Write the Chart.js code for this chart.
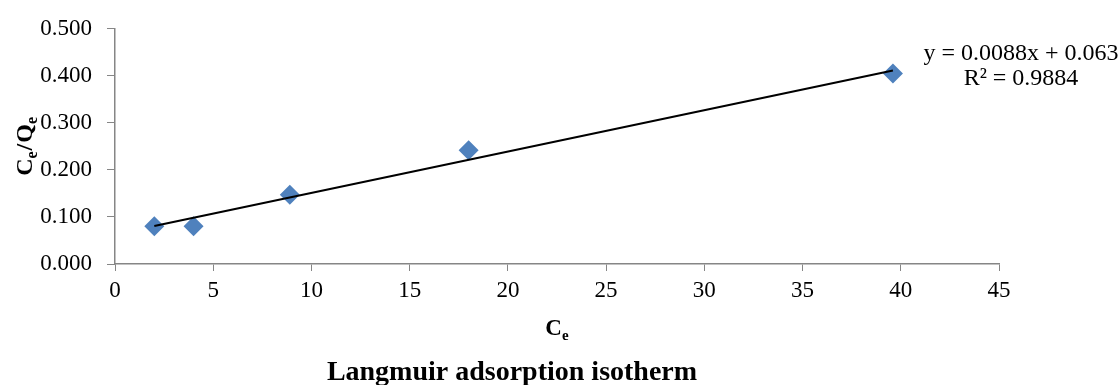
<!DOCTYPE html>
<html>
<head>
<meta charset="utf-8">
<script src="https://cdn.jsdelivr.net/npm/chart.js@4/dist/chart.umd.min.js"></script>
<style>
  html, body { margin: 0; padding: 0; background: #fff; }
  #wrap { width: 1118px; height: 385px; }
</style>
</head>
<body>
<div id="wrap"><canvas id="chart" width="1118" height="385"></canvas></div>
<script>
var ceValues = [2, 4, 8.9, 18, 39.6];          // Ce
var ratioValues = [0.080, 0.080, 0.147, 0.242, 0.405]; // Ce/Qe
// trendline end points (linear fit shown in the picture)
var trendX = [2, 39.6];
var trendY = [0.081, 0.4115];
var equationLines = ['y = 0.0088x + 0.063', 'R\u00B2 = 0.9884'];
var chartTitle = 'Langmuir adsorption isotherm';

var serif = '"Liberation Serif", "Times New Roman", serif';
var axisGray = '#868686';

function toPoints(xs, ys) {
    return xs.map(function (x, i) { return { x: x, y: ys[i] }; });
}

// draw text with subscript parts, centred on x
// parts: [[text, isSub, gapAfter], ...]
function drawSub(ctx, parts, x, y, size) {
    var subSize = Math.round(size * 0.65);
    var total = 0;
    parts.forEach(function (p) {
        ctx.font = 'bold ' + (p[1] ? subSize : size) + 'px ' + serif;
        total += ctx.measureText(p[0]).width + (p[2] || 0);
    });
    var cx = x - total / 2;
    parts.forEach(function (p) {
        ctx.font = 'bold ' + (p[1] ? subSize : size) + 'px ' + serif;
        ctx.fillText(p[0], cx, p[1] ? y + size * 0.2 : y);
        cx += ctx.measureText(p[0]).width + (p[2] || 0);
    });
}

// axis titles, equation and the chart title
var textPlugin = {
    id: 'textPlugin',
    afterDraw: function (chart) {
        var ctx = chart.ctx;
        var area = chart.chartArea;
        ctx.save();
        ctx.fillStyle = '#000';
        ctx.textAlign = 'left';
        ctx.textBaseline = 'alphabetic';

        // x axis title
        drawSub(ctx, [['C', false], ['e', true]], (area.left + area.right) / 2, 335, 23);

        // y axis title (rotated)
        ctx.save();
        ctx.translate(32, (area.top + area.bottom) / 2);
        ctx.rotate(-Math.PI / 2);
        drawSub(ctx, [['C', false], ['e', true, 1], ['/', false, 1], ['Q', false], ['e', true]], 0, 0, 24);
        ctx.restore();

        // trendline equation
        ctx.font = '24px ' + serif;
        ctx.textAlign = 'center';
        ctx.fillText(equationLines[0], 1021, 60);
        ctx.fillText(equationLines[1], 1021, 85);

        // chart title
        ctx.font = 'bold 28px ' + serif;
        ctx.fillText(chartTitle, 512, 380);
        ctx.restore();
    }
};

var ctx = document.getElementById('chart').getContext('2d');
var myChart = new Chart(ctx, {
    type: 'scatter',
    data: {
        datasets: [{
            label: 'Linear (Ce/Qe)',
            data: toPoints(trendX, trendY),
            showLine: true,
            borderColor: '#000',
            borderWidth: 2,
            pointRadius: 0,
            fill: false
        }, {
            label: 'Ce/Qe',
            data: toPoints(ceValues, ratioValues),
            pointStyle: 'rectRot',
            pointRadius: 10,
            pointHoverRadius: 10,
            backgroundColor: '#4F81BD',
            borderColor: '#4F81BD',
            borderWidth: 0
        }]
    },
    options: {
        responsive: false,
        animation: false,
        layout: { padding: { top: 23, right: 119, left: 0, bottom: 0 } },
        plugins: {
            legend: { display: false },
            tooltip: { enabled: false }
        },
        scales: {
            x: {
                type: 'linear',
                min: 0,
                max: 45,
                grid: { display: true, drawOnChartArea: false, color: axisGray, tickLength: 7, tickColor: axisGray },
                border: { color: axisGray, width: 1.5 },
                ticks: {
                    stepSize: 5,
                    padding: 6,
                    color: '#000',
                    font: { family: serif, size: 23 }
                },
                afterFit: function (scale) { scale.height = 121; }
            },
            y: {
                type: 'linear',
                min: 0,
                max: 0.5,
                grid: { display: true, drawOnChartArea: false, color: axisGray, tickLength: 8, tickColor: axisGray },
                border: { color: axisGray, width: 1.5 },
                ticks: {
                    stepSize: 0.1,
                    padding: 15,
                    color: '#000',
                    font: { family: serif, size: 23 },
                    callback: function (v) { return v.toFixed(3); }
                },
                afterFit: function (scale) { scale.width = 115; }
            }
        }
    },
    plugins: [textPlugin]
});
</script>
</body>
</html>
